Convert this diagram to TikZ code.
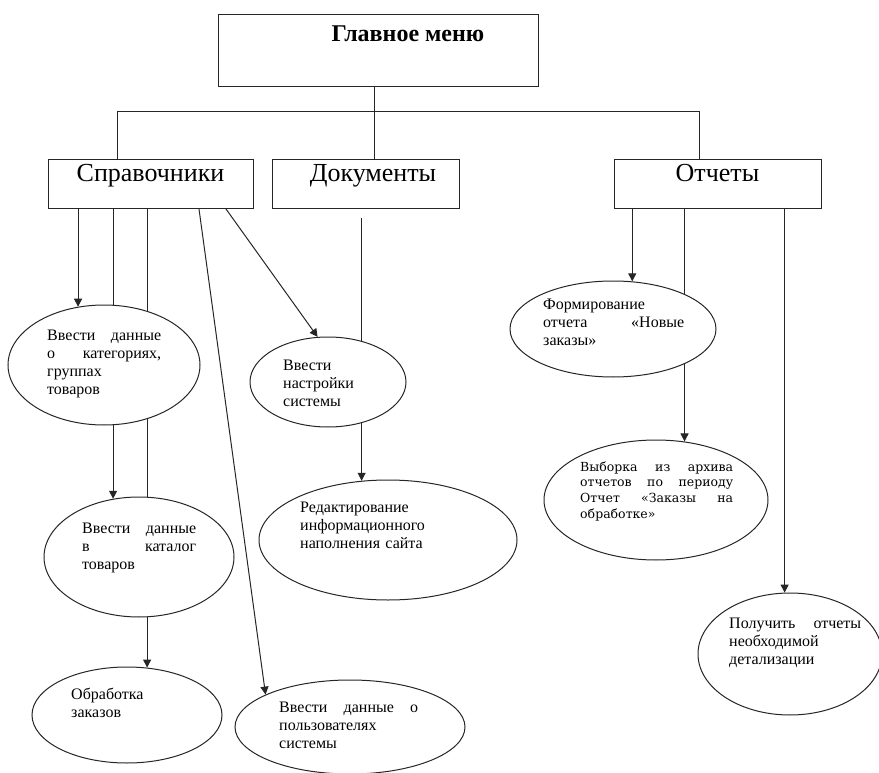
\documentclass[tikz,border=0pt]{standalone}
\usepackage{fontspec}
\setmainfont{Liberation Serif}
\newfontfamily\wideserif{DejaVu Serif}
\usetikzlibrary{positioning}
\usetikzlibrary{shapes.geometric}
\usetikzlibrary{arrows.meta}
\usetikzlibrary{backgrounds}

\tikzset{
  box/.style={draw=black!85, line width=1pt, inner sep=0, text height=22pt, text depth=27pt,
    minimum height=49pt, font=\fontsize{26}{30}\selectfont},
  oval/.style={draw=black!85, line width=1pt, ellipse, fill=white, inner sep=0},
  txt/.style={anchor=base west, inner sep=0, align=left, font=\fontsize{16}{18}\selectfont},
  conn/.style={draw=black!85, line width=1pt},
  arr/.style={conn, -{Triangle[length=8pt,width=8pt]}},
}

\begin{document}
\begin{tikzpicture}[x=1pt,y=-1pt]
  \useasboundingbox (0,0) rectangle (879,773);

  %---------------- menu boxes ----------------
  \node[box, minimum width=320pt, text height=27pt, text depth=45pt,
    font=\bfseries\fontsize{24}{28}\selectfont] (main) at (378,51) {\hspace*{60pt}Главное меню};
  \node[box, minimum width=205pt] (sprav) at (150.5,184) {Справочники};
  \node[box, minimum width=187pt] (doc) at (365.5,184) {\hspace*{15pt}Документы};
  \node[box, minimum width=207pt] (otch) at (717.5,184) {Отчеты};

  \coordinate (jl) at (117,112);
  \coordinate (jm) at (374,112);
  \coordinate (jr) at (699,112);

  %---------------- ovals ----------------
  \node[oval, minimum width=192pt, minimum height=120pt] (kat) at (104,365) {};
  \node[oval, minimum width=190pt, minimum height=120pt] (cat) at (139,557) {};
  \node[oval, minimum width=190pt, minimum height=96pt] (obr) at (127,715) {};
  \node[oval, minimum width=230pt, minimum height=94pt] (pol) at (350,727) {};
  \node[oval, minimum width=156pt, minimum height=90pt] (nas) at (328,382) {};
  \node[oval, minimum width=258pt, minimum height=120pt] (red) at (388,540) {};
  \node[oval, minimum width=206pt, minimum height=96pt] (form) at (613,329) {};
  \node[oval, minimum width=224pt, minimum height=120pt] (vyb) at (656,500) {};
  \node[oval, minimum width=184pt, minimum height=122pt] (polu) at (790,654) {};

  %---------------- oval texts ----------------
  \node[txt, text width=114pt] (kat-t) at (47,340) {Ввести\hfill данные\\ о\hfill категориях,\\ группах\\ товаров};
  \node[txt, text width=114pt] (cat-t) at (82,533) {Ввести\hfill данные\\ в\hfill каталог\\ товаров};
  \node[txt, text width=100pt] (obr-t) at (71,699) {Обработка\\ заказов};
  \node[txt, text width=139pt] (pol-t) at (279,712) {Ввести\hfill данные\hfill о\\ пользователях\\ системы};
  \node[txt, text width=90pt] (nas-t) at (283,370) {Ввести\\ настройки\\ системы};
  \node[txt, text width=130pt] (red-t) at (300,512) {Редактирование\\ информационного\\ наполнения сайта};
  \node[txt, text width=141pt] (form-t) at (543,309) {Формирование\\ отчета\hfill «Новые\\ заказы»};
  \node[txt, text width=153pt, font=\wideserif\fontsize{12.5}{15.7}\selectfont] (vyb-t) at (580,471)
    {Выборка\hfill из\hfill архива\\ отчетов\hfill по\hfill периоду\\ Отчет\hfill «Заказы\hfill на\\ обработке»};
  \node[txt, text width=132pt] (polu-t) at (729,628) {Получить\hfill отчеты\\ необходимой\\ детализации};

  %---------------- connectors ----------------
  \begin{scope}[on background layer]
    \draw[conn] (main.south -| jm) -- (doc.north -| jm);
    \draw[conn] (sprav.north -| jl) -- (jl) -- (jr) -- (otch.north -| jr);

    \draw[arr] (sprav.south -| kat.114) -- (kat.114);
    \draw[arr] (sprav.south -| cat.114) -- (cat.114);
    \draw[arr] (sprav.south -| obr.67) -- (obr.67);
    \draw[arr] ([xshift=48.5pt]sprav.south) -- (pol.159);
    \draw[arr] ([xshift=75.5pt]sprav.south) -- (nas.103);

    \draw[arr] ([yshift=-9pt]doc.south -| red.114) -- (red.114);

    \draw[arr] (otch.south -| form.68) -- (form.68);
    \draw[arr] (otch.south -| vyb.64) -- (vyb.64);
    \draw[arr] (otch.south -| polu.95) -- (polu.95);
  \end{scope}
\end{tikzpicture}
\end{document}
